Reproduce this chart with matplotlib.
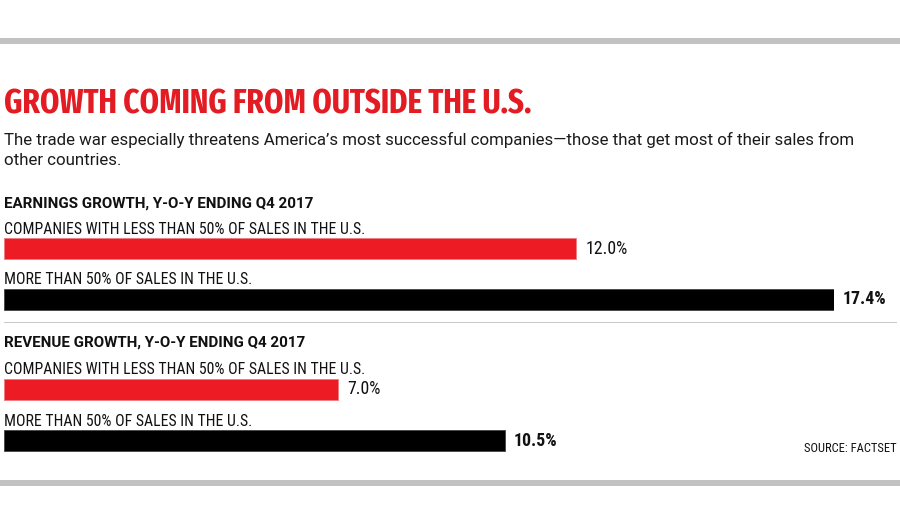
import os
import matplotlib
matplotlib.use("Agg")
import matplotlib.pyplot as plt
from matplotlib import font_manager as fm
from matplotlib.font_manager import FontProperties
import matplotlib.transforms as mtransforms

# ---------------- data ----------------
title = "GROWTH COMING FROM OUTSIDE THE U.S."
subtitle_lines = [
    "The trade war especially threatens America\u2019s most successful companies\u2014those that get most of their sales from",
    "other countries.",
]
groups = ["EARNINGS GROWTH, Y-O-Y ENDING Q4 2017", "REVENUE GROWTH, Y-O-Y ENDING Q4 2017"]
categories = ["COMPANIES WITH LESS THAN 50% OF SALES IN THE U.S.", "MORE THAN 50% OF SALES IN THE U.S."]
earnings_values = [12.0, 17.4]
revenue_values = [7.0, 10.5]
source = "SOURCE: FACTSET"

RED = "#ED1C24"
BLACK = "#000000"
bar_colors = [RED, BLACK]
label_weights = ["normal", "bold"]

W, H = 900, 522


# ---------------- fonts ----------------
def pick_font(rules, fallback_family, fallback_weight):
    files = [f.fname for f in fm.fontManager.ttflist]
    for must, must_not in rules:
        for fn in sorted(files):
            b = os.path.basename(fn).lower().replace(" ", "").replace("-", "").replace("_", "")
            if all(m in b for m in must) and not any(n in b for n in must_not):
                return FontProperties(fname=fn)
    return FontProperties(family=fallback_family, weight=fallback_weight)


title_fp = pick_font([
    (["notosans", "extracondensedbold"], ["italic"]),
    (["extracondensed", "bold"], ["italic", "semibold", "extrabold"]),
    (["condensedbold"], ["italic", "semi"]),
    (["narrow", "bold"], ["italic"]),
    (["condensed", "bold"], ["italic"]),
], "DejaVu Sans", "bold")

text_fp = pick_font([
    (["notosans", "semicondensed.ttf"], ["italic"]),
    (["notosans", "semicondensedregular"], ["italic"]),
    (["roboto", "regular"], ["italic", "condensed", "mono", "slab"]),
], "DejaVu Sans", "normal")

cond_fp = pick_font([
    (["robotocondensed", "regular"], ["italic"]),
    (["condensedregular"], ["italic", "semi", "extra"]),
    (["condensed.ttf"], ["italic", "semi", "extra"]),
    (["narrow", "regular"], ["italic"]),
    (["roboto", "regular"], ["italic", "condensed", "mono", "slab"]),
], "DejaVu Sans", "normal")

cond_bold_fp = pick_font([
    (["robotocondensed", "bold"], ["italic", "semi", "extra"]),
    (["condensedbold"], ["italic", "semi", "extra"]),
    (["roboto", "bold"], ["italic", "condensed", "mono", "slab", "semi", "extra"]),
], "DejaVu Sans", "bold")

bold_fp = pick_font([
    (["notosans", "semicondensedbold"], ["italic", "semicondensedsemibold", "extrabold"]),
    (["roboto", "bold"], ["italic", "condensed", "mono", "slab", "semi", "extra"]),
], "DejaVu Sans", "bold")

fig = plt.figure(figsize=(W / 100, H / 100), dpi=100)
fig.patch.set_facecolor("white")
renderer = fig.canvas.get_renderer()


def fx(x):
    return x / W


def fy(y):
    return 1 - y / H


def fit(t, target_w):
    bb = t.get_window_extent(renderer=renderer)
    if bb.width > 0:
        t.set_fontsize(t.get_fontsize() * target_w / bb.width)
    return t


def ptext(x, y, s, fp, color="#111111", size=12, target_w=None, ha="left"):
    t = fig.text(fx(x), fy(y), s, fontproperties=fp, color=color, ha=ha,
                 va="baseline", fontsize=size)
    if target_w:
        fit(t, target_w)
    return t


def fitted_size(s, fp, target_w):
    t = ptext(0, 0, s, fp, size=10, target_w=target_w)
    size = t.get_fontsize()
    t.remove()
    return size


# ---------------- frame bands & rules ----------------
def hband(y0, y1, color, x0=0, x1=W):
    fig.patches.append(matplotlib.patches.Rectangle((fx(x0), fy(y1)), fx(x1 - x0), (y1 - y0) / H,
                                                    transform=fig.transFigure, color=color, lw=0))


hband(38, 44, "#C2C2C2")
hband(480, 486, "#C2C2C2")
hband(321.5, 322.5, "#C8C8C8", 4, 897)

# ---------------- header ----------------
ptext(4, 113, title, title_fp, color="#E31B23", size=30, target_w=527)
sub = ptext(4, 145, subtitle_lines[0], text_fp, color="#1a1a1a", size=13, target_w=856)
ptext(4, 165, subtitle_lines[1], text_fp, color="#1a1a1a", size=sub.get_fontsize())

# ---------------- bars ----------------
xmax = max(earnings_values + revenue_values)
x_left, x_right = 4, 834
spacing = 51.0
bar_h_px = 21.0


def make_axes(center_first):
    top = center_first - spacing / 2
    bottom = top + 2 * spacing
    ax = fig.add_axes([fx(x_left), fy(bottom), fx(x_right - x_left), (bottom - top) / H])
    ax.set_xlim(0, xmax)
    ax.set_ylim(1.5, -0.5)
    ax.axis("off")
    return ax


heading_y = [208, 347]
group_values = [earnings_values, revenue_values]
first_centers = [248.5, 389.5]

cat_size = fitted_size(categories[0], cond_fp, 361)
val_size = fitted_size("12.0%", cond_fp, 42)
valb_size = fitted_size("17.4%", cond_bold_fp, 44)
head_size = fitted_size(groups[0], bold_fp, 308)

for gi, (gname, vals) in enumerate(zip(groups, group_values)):
    ptext(4, heading_y[gi], gname, bold_fp, color="#111111", size=head_size)
    ax = make_axes(first_centers[gi])
    ypos = list(range(len(vals)))
    ax.barh(ypos, vals, height=bar_h_px / spacing, color=bar_colors, left=0,
            edgecolor=["#f07a7f", "#444444"], linewidth=0.6)
    above = mtransforms.offset_copy(ax.transData, fig=fig, x=0, y=15, units="dots")
    right = mtransforms.offset_copy(ax.transData, fig=fig, x=9, y=0, units="dots")
    for i, (cat, v) in enumerate(zip(categories, vals)):
        ax.text(0, i, cat, transform=above, fontproperties=cond_fp, fontsize=cat_size,
                color="#111111", ha="left", va="baseline", clip_on=False)
        if label_weights[i] == "bold":
            fpv, sz = cond_bold_fp, valb_size
        else:
            fpv, sz = cond_fp, val_size
        ax.text(v, i, f"{v:.1f}%", transform=right, fontproperties=fpv, fontsize=sz,
                color="#111111", ha="left", va="center", clip_on=False)

ptext(897, 452, source, cond_fp, color="#111111", size=9, target_w=93, ha="right")

fig.savefig("out.png", dpi=100, facecolor="white")
